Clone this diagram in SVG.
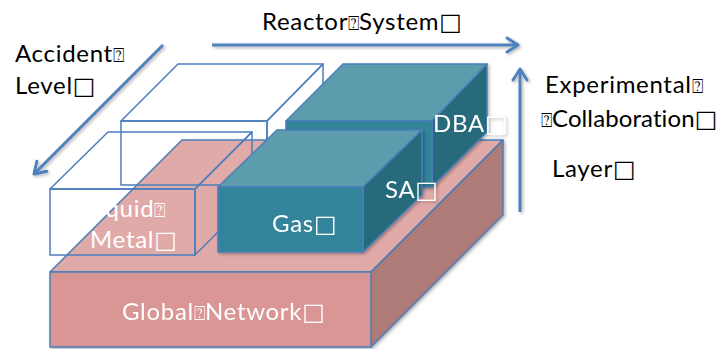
<svg xmlns="http://www.w3.org/2000/svg" width="721" height="349" viewBox="0 0 721 349">
<style>
.lbl{font-family:Lato,"Open Sans","DejaVu Sans",sans-serif;font-size:24px;letter-spacing:0.7px;fill:#000}
.wl{font-family:Lato,"Open Sans","DejaVu Sans",sans-serif;font-size:24px;letter-spacing:0.7px;fill:#fff}
.tofu{font-family:"DejaVu Sans",sans-serif;font-size:19px;letter-spacing:0}
.sq{font-family:"DejaVu Sans",sans-serif;font-size:24px;letter-spacing:0}
.edge{stroke:#4a7ebb;stroke-width:1.5;stroke-linejoin:round}
.wire{fill:none;stroke:#4a7ebb;stroke-width:1.5;stroke-linejoin:round}
.arrow{fill:none;stroke:#4f81bd;stroke-width:3;marker-end:url(#ah)}
</style>
<defs>
<filter id="sh" x="-10%" y="-10%" width="130%" height="130%">
<feDropShadow dx="1.5" dy="1.5" stdDeviation="1.5" flood-color="#000" flood-opacity="0.3"/>
</filter>
<marker id="ah" markerUnits="userSpaceOnUse" viewBox="-14 -10 16 20" markerWidth="16" markerHeight="20" refX="0" refY="0" orient="auto">
<path d="M-11,-7 L0,0 L-11,7" fill="none" stroke="#4f81bd" stroke-width="3" stroke-linecap="round" stroke-linejoin="round"/>
</marker>
</defs>

<g id="global-network" filter="url(#sh)">
<polygon class="edge" points="50,272 182,140 503,140 371,272" fill="#e0aaa8"/>
<polygon class="edge" points="371,272 503,140 503,215 371,347" fill="#ae7b78"/>
<rect class="edge" x="50" y="272" width="321" height="75" fill="#d99694"/>
<text class="wl" x="122" y="320">Global<tspan class="tofu">⍰</tspan>Network<tspan class="sq">□</tspan></text>
</g>

<g id="white-box-back">
<polygon class="wire" points="121,121 178,64 323,64 267,121"/>
<polygon class="wire" points="267,121 323,64 323,128 267,185"/>
<rect class="wire" x="121" y="121" width="146" height="64"/>
</g>

<g id="liquid-metal">
<polygon class="wire" points="50,189 108,132 252,132 195,189"/>
<polygon class="wire" points="195,189 252,132 252,198 195,255"/>
<rect class="wire" x="50" y="189" width="145" height="66"/>
<text class="wl" x="86" y="217">Liquid<tspan class="tofu">⍰</tspan></text>
<text class="wl" x="90" y="248">Metal<tspan class="sq">□</tspan></text>
</g>

<g id="dba" filter="url(#sh)">
<polygon class="edge" points="286,121 343,64 487,64 432,121" fill="#5b9cac"/>
<polygon class="edge" points="432,121 487,64 487,132 432,187" fill="#276b7b"/>
<rect class="edge" x="286" y="121" width="146" height="66" fill="#31849b"/>
<text class="wl" x="433" y="132">DBA<tspan class="sq">□</tspan></text>
</g>

<g id="gas-sa" filter="url(#sh)">
<polygon class="edge" points="218,187 277,130 422,130 363,187" fill="#5b9cac"/>
<polygon class="edge" points="363,187 422,130 422,195 363,252" fill="#276b7b"/>
<rect class="edge" x="218" y="187" width="145" height="65" fill="#31849b"/>
<text class="wl" x="272" y="232">Gas<tspan class="sq">□</tspan></text>
<text class="wl" x="385" y="198">SA<tspan class="sq">□</tspan></text>
</g>

<g id="connectors" filter="url(#sh)">
<line class="arrow" x1="163" y1="45" x2="34" y2="174"/>
<line class="arrow" x1="212" y1="45" x2="518" y2="45"/>
<line class="arrow" x1="520" y1="212" x2="520" y2="69"/>
</g>

<g id="labels">
<text class="lbl" x="15" y="62">Accident<tspan class="tofu">⍰</tspan></text>
<text class="lbl" x="15" y="94">Level<tspan class="sq">□</tspan></text>
<text class="lbl" x="262" y="30">Reactor<tspan class="tofu">⍰</tspan>System<tspan class="sq">□</tspan></text>
<text class="lbl" x="545" y="93">Experimental<tspan class="tofu">⍰</tspan></text>
<text class="lbl" x="541" y="127" style="letter-spacing:0.1px"><tspan class="tofu">⍰</tspan>Collaboration<tspan class="sq">□</tspan></text>
<text class="lbl" x="552" y="177">Layer<tspan class="sq">□</tspan></text>
</g>
</svg>
